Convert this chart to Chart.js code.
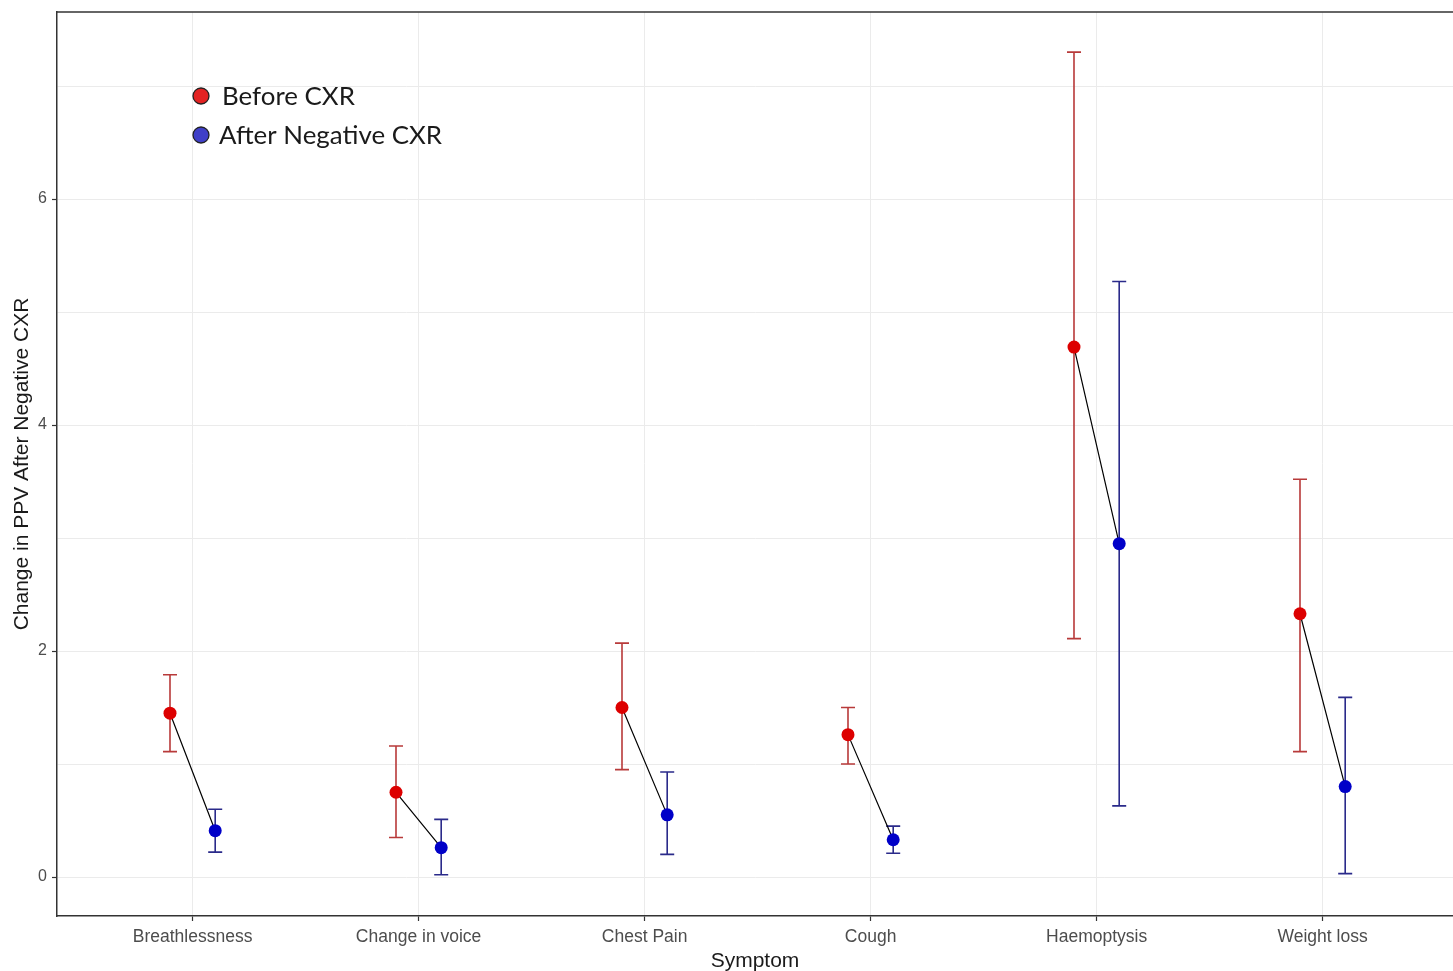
<!DOCTYPE html>
<html><head><meta charset="utf-8">
<script src="https://cdn.jsdelivr.net/npm/chart.js@4.4.1/dist/chart.umd.min.js"></script>
<style>html,body{margin:0;padding:0;background:#fff;}canvas{display:block;}</style>
</head><body>
<canvas id="c" width="1453" height="971"></canvas>
<script>
const categories = ["Breathlessness","Change in voice","Chest Pain","Cough","Haemoptysis","Weight loss"];
const beforeValues = [1.45, 0.75, 1.50, 1.26, 4.69, 2.33];
const beforeLow    = [1.11, 0.35, 0.95, 1.00, 2.11, 1.11];
const beforeHigh   = [1.79, 1.16, 2.07, 1.50, 7.30, 3.52];
const afterValues  = [0.41, 0.26, 0.55, 0.33, 2.95, 0.80];
const afterLow     = [0.22, 0.02, 0.20, 0.21, 0.63, 0.03];
const afterHigh    = [0.60, 0.51, 0.93, 0.45, 5.27, 1.59];
const yTicks = [0,1,2,3,4,5,6,7];
const yLabelTicks = [0,2,4,6];
const seriesNames = ["Before CXR","After Negative CXR"];
const dodge = 0.1;

const FONT = "'Liberation Sans', Arial, sans-serif";
const beforePts = beforeValues.map((v,i)=>({x:i-dodge,y:v}));
const afterPts = afterValues.map((v,i)=>({x:i+dodge,y:v}));
const linkPts = [];
categories.forEach((c,i)=>{
  linkPts.push({x:i-dodge,y:beforeValues[i]});
  linkPts.push({x:i+dodge,y:afterValues[i]});
  linkPts.push({x:i+0.5,y:null});
});

const errorBars = {
  id:'errorBars',
  beforeDatasetsDraw(chart){
    const {ctx, scales:{x,y}} = chart;
    const groups = [
      {lo:beforeLow, hi:beforeHigh, off:-dodge, color:'#b83a3a'},
      {lo:afterLow, hi:afterHigh, off:dodge, color:'#2a2a8a'}
    ];
    ctx.save();
    ctx.lineWidth = 1.6;
    groups.forEach(g=>{
      ctx.strokeStyle = g.color;
      categories.forEach((c,i)=>{
        const px = x.getPixelForValue(i+g.off);
        const y1 = y.getPixelForValue(g.lo[i]);
        const y2 = y.getPixelForValue(g.hi[i]);
        const cap = x.getPixelForValue(0.031) - x.getPixelForValue(0);
        ctx.beginPath();
        ctx.moveTo(px,y1); ctx.lineTo(px,y2);
        ctx.moveTo(px-cap,y1); ctx.lineTo(px+cap,y1);
        ctx.moveTo(px-cap,y2); ctx.lineTo(px+cap,y2);
        ctx.stroke();
      });
    });
    ctx.restore();
  }
};

const frame = {
  id:'frame',
  afterDraw(chart){
    const {ctx, chartArea:a} = chart;
    ctx.save();
    ctx.strokeStyle = '#333';
    ctx.lineWidth = 1.5;
    ctx.beginPath();
    ctx.moveTo(a.left, a.top); ctx.lineTo(a.right, a.top);
    ctx.stroke();
    // legend
    const items = [
      {name:seriesNames[0], fill:'#e32222', cy:96, tx:222},
      {name:seriesNames[1], fill:'#3f3fc8', cy:135, tx:219}
    ];
    ctx.font = "22px 'Lato', sans-serif";
    const w = ctx.measureText(seriesNames[1]).width;
    const size = 22*223/w;
    ctx.font = size.toFixed(2)+"px 'Lato', sans-serif";
    ctx.textBaseline = 'middle';
    ctx.textAlign = 'left';
    items.forEach(it=>{
      ctx.beginPath();
      ctx.arc(201, it.cy, 8, 0, Math.PI*2);
      ctx.fillStyle = it.fill; ctx.fill();
      ctx.lineWidth = 1.3; ctx.strokeStyle = '#222'; ctx.stroke();
      ctx.fillStyle = '#1a1a1a';
      ctx.fillText(it.name, it.tx, it.cy+1);
    });
    ctx.restore();
  }
};

new Chart(document.getElementById('c'), {
  type:'scatter',
  data:{datasets:[
    {label:seriesNames[0], data:beforePts, backgroundColor:'#dd0000', borderWidth:0, pointRadius:6.5, pointHoverRadius:6.5},
    {label:seriesNames[1], data:afterPts, backgroundColor:'#0000c8', borderWidth:0, pointRadius:6.5, pointHoverRadius:6.5},
    {label:'link', data:linkPts, showLine:true, spanGaps:false, borderColor:'#000', borderWidth:1.2, pointRadius:0, fill:false}
  ]},
  options:{
    responsive:false, animation:false,
    layout:{autoPadding:false, padding:{top:12,right:0,left:0,bottom:0}},
    plugins:{legend:{display:false}, tooltip:{enabled:false}},
    scales:{
      x:{
        type:'linear', min:-0.6, max:5.577,
        afterBuildTicks(s){ s.ticks = categories.map((c,i)=>({value:i})); },
        afterFit(s){ s.height = 55; s.paddingLeft = 0; s.paddingRight = 0; },
        ticks:{callback:(v)=>categories[v] ?? '', font:{family:FONT,size:17.5}, color:'#4d4d4d', padding:6, maxRotation:0, autoSkip:false},
        grid:{color:'#ebebeb', lineWidth:1, tickColor:'#333', tickLength:5, tickWidth:1.2},
        border:{display:true, color:'#333', width:1.5},
        title:{display:true, text:'Symptom', font:{family:FONT,size:21}, color:'#1a1a1a', padding:{top:0,bottom:-3}}
      },
      y:{
        type:'linear', min:-0.345, max:7.655,
        afterBuildTicks(s){ s.ticks = yTicks.map(v=>({value:v})); },
        afterFit(s){ s.width = 57; s.paddingTop = 0; s.paddingBottom = 0; },
        ticks:{callback:(v)=> yLabelTicks.includes(v) ? String(v) : '', font:{family:FONT,size:16}, color:'#4d4d4d', padding:5},
        grid:{color:'#ebebeb', lineWidth:1, tickColor:(c)=> yLabelTicks.includes(c.tick && c.tick.value) ? '#333' : 'rgba(0,0,0,0)', tickLength:5, tickWidth:1.2},
        border:{display:true, color:'#333', width:1.5},
        title:{display:true, text:'Change in PPV After Negative CXR', font:{family:FONT,size:21}, color:'#1a1a1a', padding:{top:9.5,bottom:0}}
      }
    }
  },
  plugins:[errorBars, frame]
});
</script>
</body></html>
